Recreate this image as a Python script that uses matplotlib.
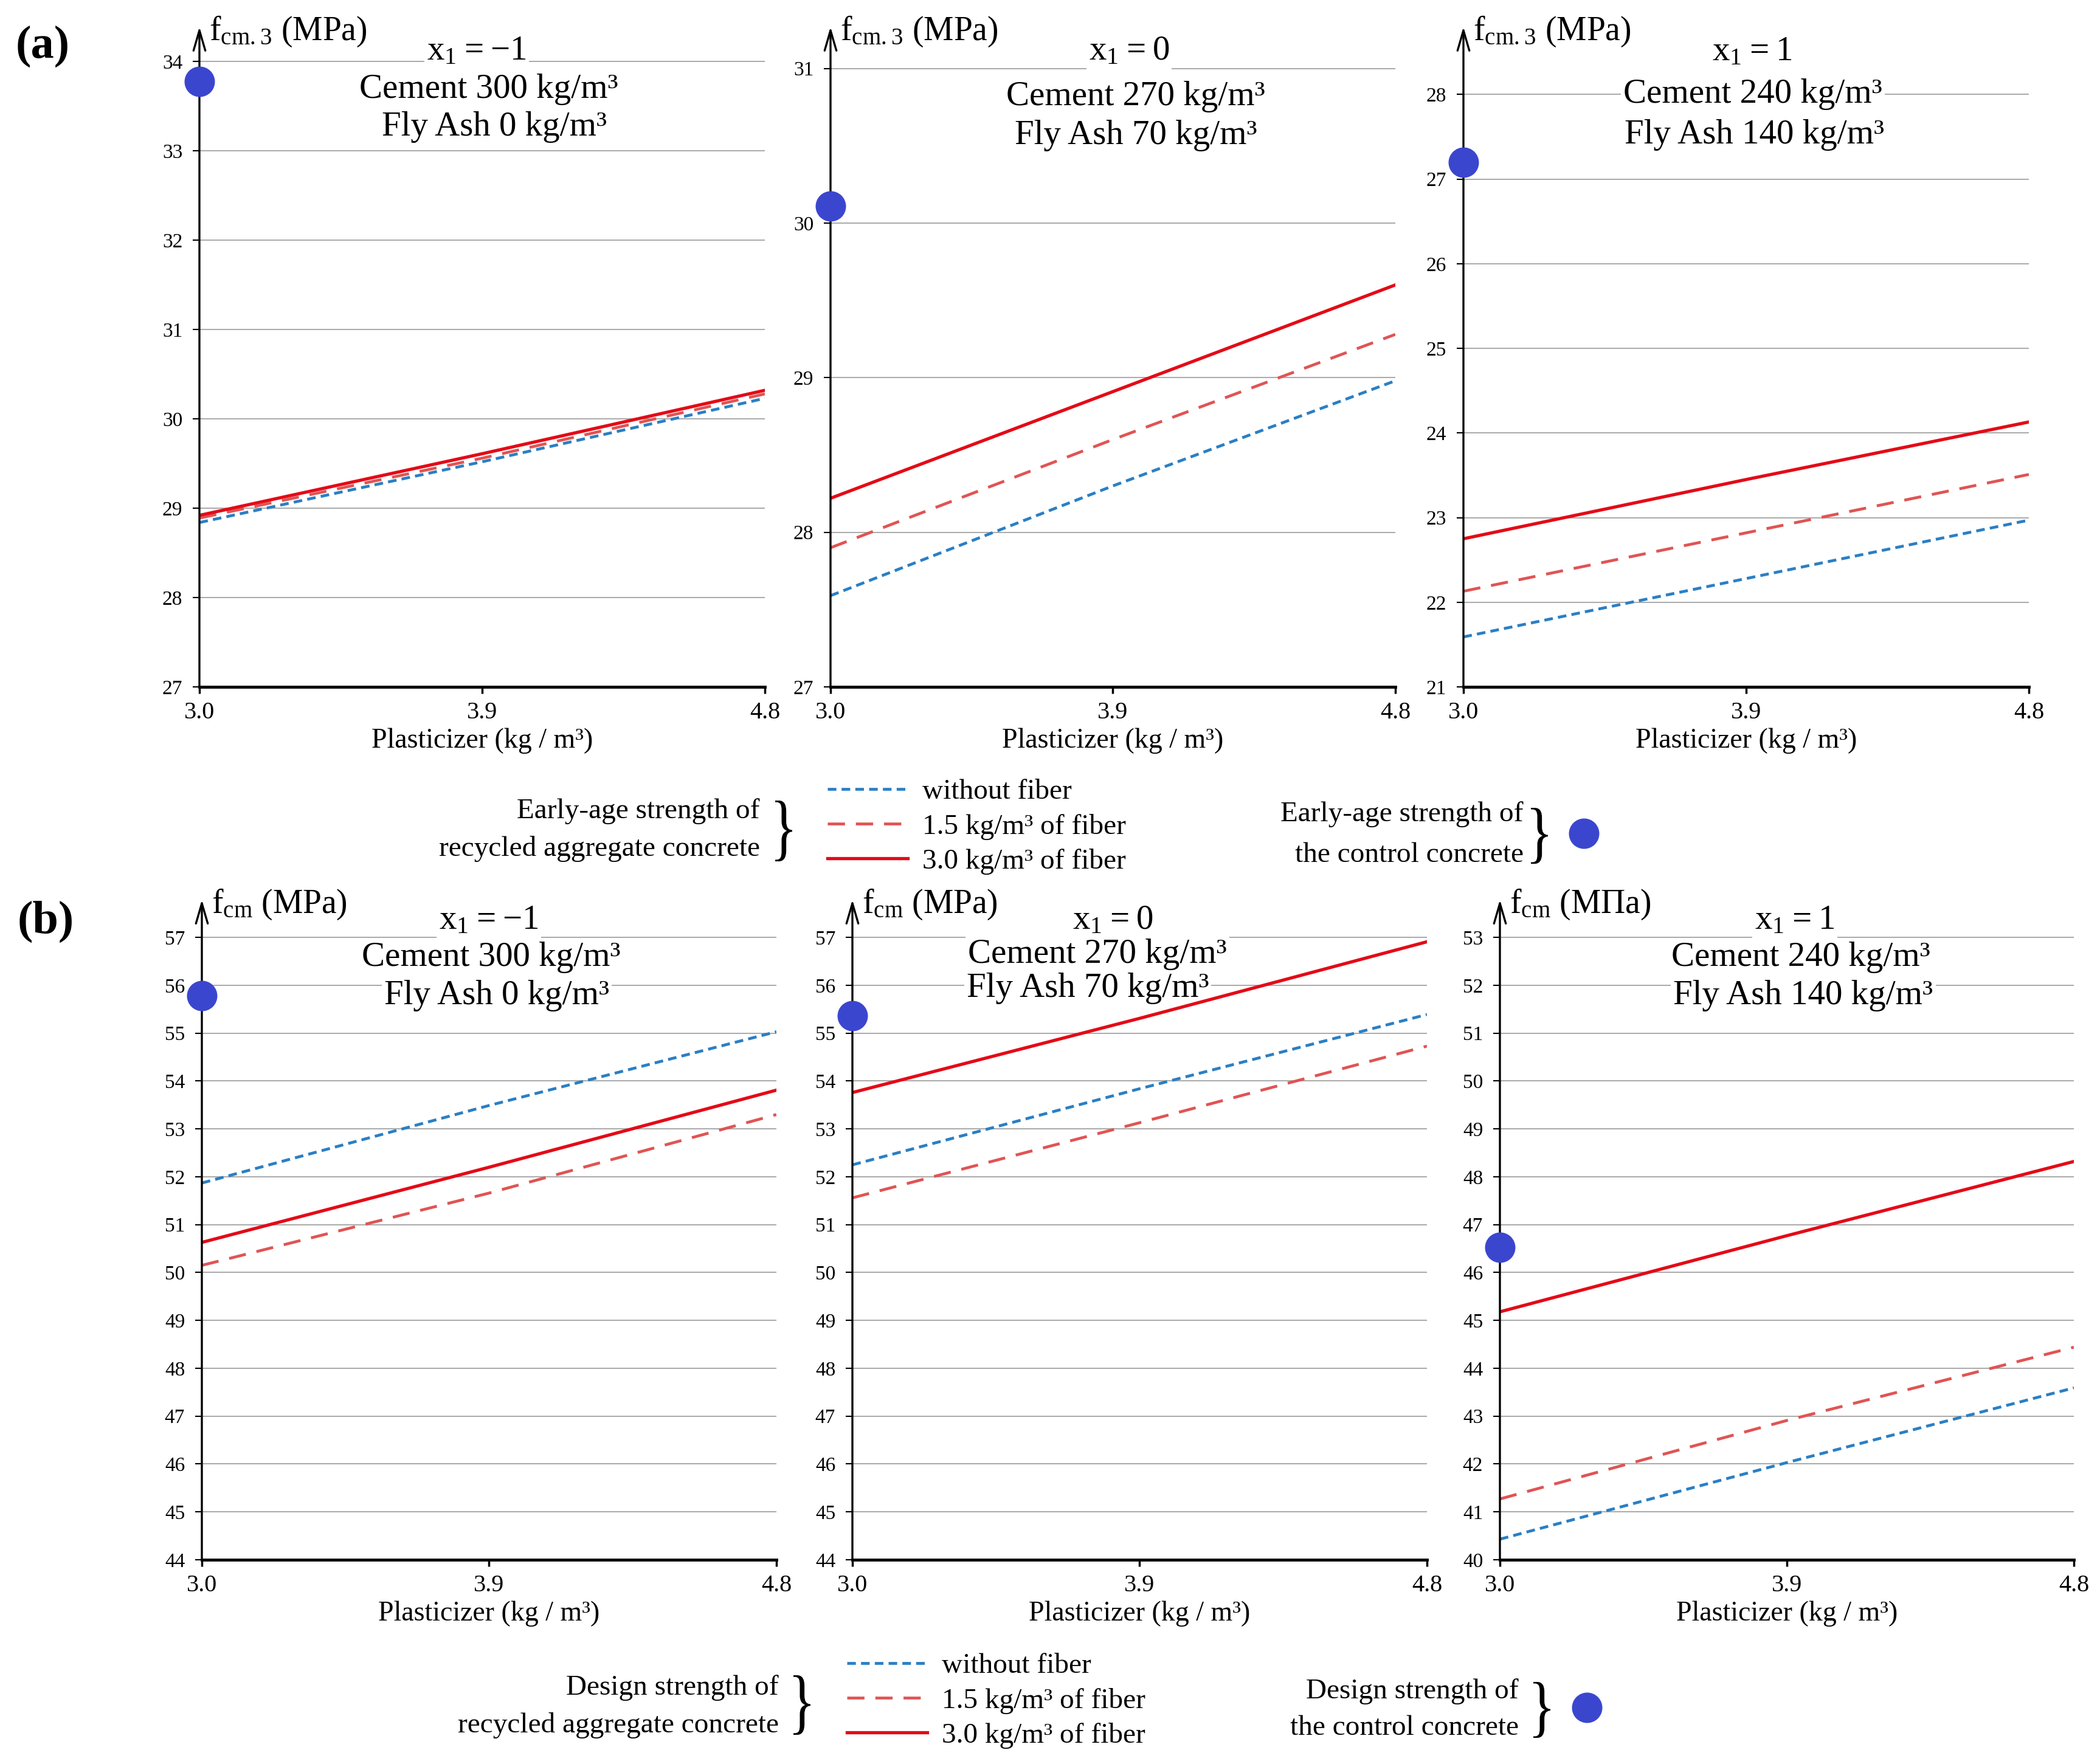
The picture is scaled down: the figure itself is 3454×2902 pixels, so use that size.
import numpy as np
import matplotlib.pyplot as plt
from matplotlib.patches import PathPatch
from matplotlib.textpath import TextPath
from matplotlib.font_manager import FontProperties
from matplotlib.transforms import Affine2D

plt.rcParams['font.family'] = ['Liberation Serif', 'DejaVu Serif']
plt.rcParams['mathtext.fontset'] = 'custom'
plt.rcParams['mathtext.rm'] = 'Liberation Serif'

# data
x1_levels = ['-1', '0', '1']
cement = [300, 270, 240]
fly_ash = [0, 70, 140]
plasticizer = [3.0, 3.9, 4.8]
x_ticklabels = ['3.0', '3.9', '4.8']

# (a) early-age strength f_cm.3, MPa
early_without = [[28.84, 29.52, 30.23], [27.59, 28.30, 28.98], [21.59, 22.28, 22.97]]
early_fiber15 = [[28.89, 29.56, 30.28], [27.90, 28.60, 29.28], [22.13, 22.82, 23.51]]
early_fiber30 = [[28.92, 29.61, 30.32], [28.22, 28.91, 29.60], [22.75, 23.45, 24.13]]
early_control = [33.78, 30.11, 27.20]
early_ylim = [(27, 34), (27, 31), (21, 28)]

# (b) design strength f_cm, MPa
design_without = [[51.87, 53.49, 55.03], [52.25, 53.84, 55.39], [40.43, 42.03, 43.59]]
design_fiber15 = [[50.15, 51.66, 53.30], [51.56, 53.13, 54.73], [41.27, 42.91, 44.44]]
design_fiber30 = [[50.63, 52.20, 53.81], [53.76, 55.31, 56.91], [45.18, 46.77, 48.32]]
design_control = [55.79, 55.37, 46.53]
design_ylim = [(44, 57), (44, 57), (40, 53)]

legend_labels = ['without fiber', '1.5 kg/m\u00b3 of fiber', '3.0 kg/m\u00b3 of fiber']

BLUE = '#2a7fc4'
RED = '#e30b17'
RED_D = '#e05454'
DOT = '#3b46cf'
GRID = '#a3a3a3'

W, H = 3455, 2902
fig = plt.figure(figsize=(W / 100, H / 100), dpi=100)


def fxy(x, y):
    return x / W, 1 - y / H


def brace(x, y, h, w=28):
    tp = TextPath((0, 0), '}', size=100, prop=FontProperties(family='Liberation Serif'))
    e = tp.get_extents()
    tr = (Affine2D().translate(-e.x0 - e.width / 2, -e.y0 - e.height / 2)
          .scale(w / e.width / W, h / e.height / H).translate(*fxy(x, y)))
    fig.add_artist(PathPatch(tr.transform_path(tp), facecolor='black',
                             edgecolor='none', transform=fig.transFigure))


def panel(box, top, bottom, without, f15, f30, ctrl, ylim, top_extra, ylabel, titles):
    l, r = box
    ax = fig.add_axes([l / W, 1 - bottom / H, (r - l) / W, (bottom - top) / H])
    lines = []
    lines += ax.plot(plasticizer, without, color=BLUE, lw=3.4, dashes=(3, 1.8), zorder=3)
    lines += ax.plot(plasticizer, f15, color=RED_D, lw=3.4, dashes=(6, 3.8), zorder=3)
    lines += ax.plot(plasticizer, f30, color=RED, lw=3.8, zorder=3)
    dot = ax.plot([plasticizer[0]], [ctrl], 'o', ms=35, color=DOT, clip_on=False, zorder=6)[0]
    ax.set_xlim(plasticizer[0], plasticizer[-1])
    ax.set_ylim(ylim[0], ylim[1] + top_extra)
    ax.set_yticks(np.arange(ylim[0], ylim[1] + 1))
    ax.set_xticks(plasticizer)
    ax.set_xticklabels(x_ticklabels)
    ax.tick_params(axis='y', labelsize=24, length=8, width=1.5, pad=12)
    ax.tick_params(axis='x', labelsize=29, length=8, width=2.5, pad=9)
    ax.grid(axis='y', color=GRID, lw=1.3)
    ax.set_axisbelow(True)
    for s in ['top', 'right', 'left']:
        ax.spines[s].set_visible(False)
    ax.spines['bottom'].set_linewidth(3.5)
    ax.annotate('', xy=(0, 1), xytext=(0, 0), xycoords='axes fraction',
                arrowprops=dict(arrowstyle='->,head_length=1.2,head_width=0.35',
                                lw=2.4, color='black', shrinkA=0, shrinkB=0,
                                mutation_scale=20), annotation_clip=False, zorder=4)
    ax.set_xlabel('Plasticizer (kg / m\u00b3)', fontsize=33, labelpad=5)
    ax.text(*fxy(l + 16, top + 8), ylabel, transform=fig.transFigure, fontsize=40,
            ha='left', va='center', zorder=2)
    for (tx, ty), s in titles:
        ax.text(*fxy(tx, ty), s, transform=fig.transFigure, fontsize=41, ha='center',
                va='center', zorder=2,
                bbox=dict(facecolor='white', edgecolor='none', pad=3))
    return lines, dot


def title_lines(i):
    return [r'$\mathregular{x_1 = %s}$' % x1_levels[i],
            'Cement %d kg/m\u00b3' % cement[i],
            'Fly Ash %d kg/m\u00b3' % fly_ash[i]]


a_boxes = [(328, 1258), (1366, 2295), (2407, 3337)]
a_extra = [0.39, 0.27, 0.80]
a_title_pos = [[(784, 84), (804, 147), (813, 209)],
               [(1857, 84), (1868, 159), (1868, 223)],
               [(2882, 85), (2883, 155), (2886, 222)]]
b_boxes = [(332, 1277), (1402, 2347), (2467, 3411)]
b_title_pos = [[(804, 1514), (808, 1575), (817, 1638)],
               [(1830, 1514), (1805, 1570), (1789, 1626)],
               [(2952, 1514), (2962, 1575), (2966, 1638)]]
fcm = r'$\mathregular{f_{cm}}$'
b_ylabels = [fcm + ' (MPa)', fcm + ' (MPa)', fcm + ' (\u041c\u041f\u0430)']

for i in range(3):
    la, da = panel(a_boxes[i], 44, 1130, early_without[i], early_fiber15[i],
                   early_fiber30[i], early_control[i], early_ylim[i], a_extra[i],
                   r'$\mathregular{f_{cm.3}}$ (MPa)',
                   list(zip(a_title_pos[i], title_lines(i))))
    lb, db = panel(b_boxes[i], 1480, 2566, design_without[i], design_fiber15[i],
                   design_fiber30[i], design_control[i], design_ylim[i], 0.79,
                   b_ylabels[i], list(zip(b_title_pos[i], title_lines(i))))

fig.text(*fxy(70, 76), '(a)', fontsize=55, fontweight='bold', ha='center', va='center')
fig.text(*fxy(75, 1516), '(b)', fontsize=55, fontweight='bold', ha='center', va='center')

legprop = FontProperties(family='Liberation Serif', size=34)
for lines, dot, hx, hy, prefix, left_x, left_y, br1, right_x, right_y, br2, dpos in [
        (la, da, 1361, 1360, 'Early-age strength of', 1250, (1335, 1397), (1289, 1367, 100),
         2506, (1340, 1407), (2532, 1375, 92), (2605, 1372)),
        (lb, db, 1393, 2798, 'Design strength of', 1281, (2777, 2838), (1319, 2805, 98),
         2498, (2783, 2843), (2536, 2813, 92), (2610, 2810))]:
    leg = fig.legend(lines, legend_labels, loc='center left', bbox_to_anchor=fxy(hx, hy),
                     frameon=False, borderpad=0, borderaxespad=0, handlelength=2.8,
                     handletextpad=0.5, labelspacing=0.3, prop=legprop)
    fig.text(*fxy(left_x, left_y[0]), prefix, fontsize=34, ha='right', va='center')
    fig.text(*fxy(left_x, left_y[1]), 'recycled aggregate concrete', fontsize=34,
             ha='right', va='center')
    brace(*br1)
    fig.text(*fxy(right_x, right_y[0]), prefix, fontsize=34, ha='right', va='center')
    fig.text(*fxy(right_x, right_y[1]), 'the control concrete', fontsize=34,
             ha='right', va='center')
    brace(*br2)
    fig.legend([dot], [''], loc='center', bbox_to_anchor=fxy(*dpos), frameon=False,
               borderpad=0, borderaxespad=0, handlelength=1.0, handletextpad=0)

fig.savefig('out.png', dpi=100)
